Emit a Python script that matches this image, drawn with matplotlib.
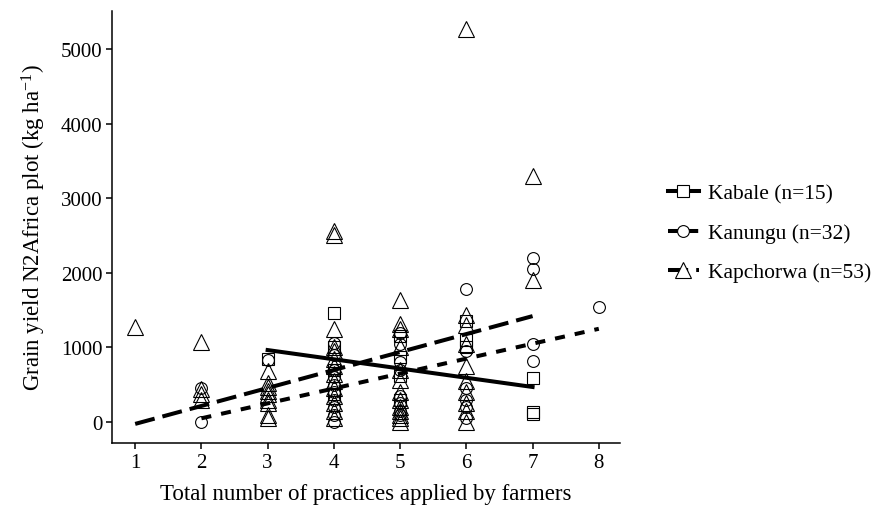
import matplotlib
matplotlib.use("Agg")
import matplotlib.pyplot as plt
from matplotlib.lines import Line2D

plt.rcParams['font.family'] = ['Liberation Serif', 'DejaVu Serif']
plt.rcParams['mathtext.fontset'] = 'custom'
plt.rcParams['mathtext.rm'] = 'Liberation Serif'
plt.rcParams['mathtext.default'] = 'regular'

# Points: number of practices and grain yield (kg/ha)
kabale_x = [3, 4, 4, 4, 4, 5, 5, 5, 5, 6, 6, 6, 7, 7, 7]
kabale_y = [840, 1460, 1000, 700, 380, 1150, 870, 620, 300, 1350, 1100, 1000, 590, 130, 110]

kanungu_x = [2, 2, 3,
             4, 4, 4, 4, 4, 4, 4, 4, 4, 4,
             5, 5, 5, 5, 5, 5, 5, 5,
             6, 6, 6, 6, 6, 6,
             7, 7, 7, 7, 8]
kanungu_y = [450, 0, 830,
             1060, 900, 700, 600, 500, 400, 300, 200, 100, 0,
             1200, 1050, 800, 700, 350, 250, 150, 100,
             1780, 950, 450, 300, 200, 50,
             2200, 2050, 1050, 820, 1540]

kapchorwa_x = [1, 2, 2, 2, 2,
               3, 3, 3, 3, 3, 3, 3, 3, 3,
               4, 4, 4, 4, 4, 4, 4, 4, 4, 4, 4, 4, 4, 4,
               5, 5, 5, 5, 5, 5, 5, 5, 5, 5, 5, 5, 5,
               6, 6, 6, 6, 6, 6, 6, 6, 6, 6,
               7, 7]
kapchorwa_y = [1270, 1070, 440, 380, 300,
               690, 520, 470, 420, 370, 300, 250, 100, 50,
               2560, 2510, 1250, 1000, 950, 850, 750, 650, 550, 450, 350, 250, 150, 50,
               1640, 1310, 1250, 1000, 700, 560, 400, 300, 200, 150, 100, 50, 0,
               5270, 1430, 1300, 1050, 750, 550, 400, 250, 150, 0,
               3300, 1900]

# Fitted regression lines (end points)
kabale_fit_x = [3, 7]
kabale_fit_y = [965, 470]
kanungu_fit_x = [2, 8]
kanungu_fit_y = [50, 1250]
kapchorwa_fit_x = [1, 7]
kapchorwa_fit_y = [-25, 1420]

labels = ['Kabale (n=15)', 'Kanungu (n=32)', 'Kapchorwa (n=53)']

fig = plt.figure(figsize=(8.84, 5.10), dpi=100)
ax = fig.add_axes([112 / 884, 1 - 444 / 510, (620 - 112) / 884, (444 - 12) / 510])

pt = dict(linestyle='none', markerfacecolor='none', markeredgecolor='black',
          markeredgewidth=0.8, zorder=2)
ax.plot(kabale_x, kabale_y, marker='s', markersize=8, **pt)
ax.plot(kanungu_x, kanungu_y, marker='o', markersize=8.5, **pt)
ax.plot(kapchorwa_x, kapchorwa_y, marker='^', markersize=11, **pt)

lw = 2.9
styles = ['-', (0, (2.5, 2.5)), (0, (5, 2))]
ax.plot(kabale_fit_x, kabale_fit_y, color='black', lw=lw, linestyle=styles[0], zorder=3)
ax.plot(kanungu_fit_x, kanungu_fit_y, color='black', lw=lw, linestyle=styles[1], zorder=3)
ax.plot(kapchorwa_fit_x, kapchorwa_fit_y, color='black', lw=lw, linestyle=styles[2], zorder=3)

ax.set_xlim(0.65, 8.32)
ax.set_ylim(-281, 5510)
ax.set_xticks(range(1, 9))
ax.set_yticks([0, 1000, 2000, 3000, 4000, 5000])
ax.spines['top'].set_visible(False)
ax.spines['right'].set_visible(False)
for s in ['left', 'bottom']:
    ax.spines[s].set_linewidth(1.1)
ax.tick_params(direction='out', length=4, width=1.1, labelsize=15, pad=3, colors='black')

ax.set_xlabel('Total number of practices applied by farmers', fontsize=16.5, labelpad=8)
ax.set_ylabel('Grain yield N2Africa plot (kg ha$^{-1}$)', fontsize=16.5, labelpad=9)

handles = [
    Line2D([], [], color='black', lw=lw, linestyle=styles[0], marker='s', markersize=8,
           markerfacecolor='white', markeredgecolor='black', markeredgewidth=0.8),
    Line2D([], [], color='black', lw=lw, linestyle=styles[1], marker='o', markersize=8.5,
           markerfacecolor='white', markeredgecolor='black', markeredgewidth=0.8),
    Line2D([], [], color='black', lw=lw, linestyle=styles[2], marker='^', markersize=11,
           markerfacecolor='white', markeredgecolor='black', markeredgewidth=0.8),
]
fig.legend(handles, labels, loc='center left', bbox_to_anchor=(657 / 884, 1 - 234 / 510),
           frameon=False, fontsize=15.5, handlelength=1.45, handletextpad=0.4,
           labelspacing=0.9, borderpad=0)

fig.savefig('out.png', dpi=100)
